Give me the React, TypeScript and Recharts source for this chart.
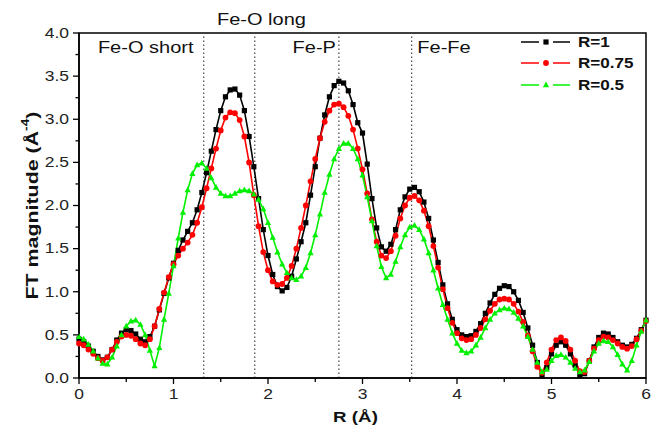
import React from 'react';
import { LineChart, Line, XAxis, YAxis, ReferenceLine, ReferenceArea, ReferenceDot, Legend } from 'recharts';

const FONT = '"Liberation Sans", Arial, sans-serif';
// the source figure is stretched sideways, so text is widened to match
const SX = 1.25;

const R_STEP = 0.05;

// FT magnitude, R = 0 .. 6 in 0.05 steps
const ftR1 = [
  0.45, 0.42, 0.37, 0.31, 0.25, 0.21, 0.24, 0.33, 0.44, 0.52,
  0.56, 0.55, 0.51, 0.45, 0.42, 0.48, 0.60, 0.79, 0.98, 1.16,
  1.33, 1.48, 1.60, 1.70, 1.80, 1.95, 2.15, 2.38, 2.63, 2.88,
  3.10, 3.26, 3.34, 3.35, 3.28, 3.10, 2.80, 2.45, 2.08, 1.72,
  1.42, 1.20, 1.06, 1.01, 1.05, 1.18, 1.38, 1.58, 1.80, 2.12,
  2.45, 2.78, 3.05, 3.26, 3.39, 3.44, 3.42, 3.33, 3.17, 2.96,
  2.84, 2.48, 2.08, 1.74, 1.52, 1.47, 1.55, 1.72, 1.95, 2.10,
  2.19, 2.21, 2.16, 2.04, 1.85, 1.60, 1.34, 1.08, 0.86, 0.68,
  0.56, 0.50, 0.48, 0.49, 0.54, 0.63, 0.75, 0.87, 0.97, 1.04,
  1.07, 1.06, 1.00, 0.90, 0.76, 0.58, 0.38, 0.18, 0.03, 0.12,
  0.28, 0.38, 0.42, 0.38, 0.28, 0.15, 0.03, 0.05, 0.20, 0.36,
  0.47, 0.52, 0.51, 0.47, 0.42, 0.38, 0.36, 0.39, 0.46, 0.56,
  0.67,
];

const ftR075 = [
  0.40, 0.38, 0.33, 0.28, 0.23, 0.20, 0.24, 0.33, 0.42, 0.48,
  0.50, 0.49, 0.45, 0.40, 0.38, 0.45, 0.60, 0.80, 0.99, 1.17,
  1.32, 1.42, 1.50, 1.57, 1.66, 1.80, 1.98, 2.20, 2.43, 2.66,
  2.87, 3.02, 3.08, 3.07, 2.99, 2.80, 2.50, 2.12, 1.76, 1.46,
  1.25, 1.12, 1.08, 1.09, 1.16, 1.30, 1.50, 1.74, 2.00, 2.28,
  2.54, 2.78, 2.97, 3.10, 3.17, 3.18, 3.14, 3.04, 2.88, 2.66,
  2.42, 2.14, 1.84, 1.58, 1.42, 1.39, 1.47, 1.65, 1.85, 2.00,
  2.09, 2.11, 2.06, 1.94, 1.76, 1.53, 1.28, 1.03, 0.81, 0.64,
  0.52, 0.46, 0.44, 0.45, 0.50, 0.58, 0.68, 0.78, 0.86, 0.91,
  0.92, 0.91, 0.86, 0.77, 0.65, 0.49, 0.31, 0.13, 0.06, 0.18,
  0.33, 0.44, 0.47, 0.43, 0.33, 0.20, 0.08, 0.07, 0.20, 0.34,
  0.44, 0.48, 0.47, 0.44, 0.40, 0.36, 0.34, 0.37, 0.45, 0.55,
  0.66,
];

const ftR05 = [
  0.48, 0.45, 0.39, 0.31, 0.23, 0.17, 0.16, 0.24, 0.37, 0.50,
  0.60, 0.66, 0.67, 0.62, 0.50, 0.32, 0.14, 0.35, 0.68, 0.98,
  1.30, 1.62, 1.92, 2.18, 2.37, 2.47, 2.49, 2.43, 2.32, 2.21,
  2.14, 2.11, 2.11, 2.14, 2.17, 2.18, 2.17, 2.13, 2.07, 1.96,
  1.80, 1.63, 1.46, 1.32, 1.22, 1.16, 1.14, 1.18, 1.28, 1.45,
  1.66, 1.90, 2.15, 2.36, 2.54, 2.66, 2.72, 2.72, 2.66, 2.54,
  2.35, 2.10, 1.82, 1.53, 1.29, 1.16, 1.20, 1.35, 1.52, 1.66,
  1.75, 1.77, 1.72, 1.61, 1.45, 1.25, 1.04, 0.85, 0.68, 0.52,
  0.40, 0.32, 0.29, 0.31, 0.38, 0.47, 0.58, 0.68, 0.75, 0.79,
  0.81, 0.80, 0.76, 0.69, 0.60, 0.48, 0.33, 0.18, 0.07, 0.10,
  0.20, 0.26, 0.27, 0.24, 0.18, 0.11, 0.07, 0.09, 0.19, 0.31,
  0.40, 0.43, 0.42, 0.36, 0.27, 0.16, 0.09, 0.20, 0.38, 0.54,
  0.67,
];

const seriesKeys = ['r1', 'r075', 'r05'];
const seriesNames = ['R=1', 'R=0.75', 'R=0.5'];
const seriesColors = ['#000000', '#ff0000', '#00f000'];
const seriesShapes = ['square', 'circle', 'triangle'];

const xTicks = [0, 0.5, 1, 1.5, 2, 2.5, 3, 3.5, 4, 4.5, 5, 5.5, 6];
const xMajor = [0, 1, 2, 3, 4, 5, 6];
const yTicks = [0, 0.25, 0.5, 0.75, 1, 1.25, 1.5, 1.75, 2, 2.25, 2.5, 2.75, 3, 3.25, 3.5, 3.75, 4];
const yMajor = [0, 0.5, 1, 1.5, 2, 2.5, 3, 3.5, 4];

// shell boundaries (dotted lines) and shell labels
const shellEdges = [1.32, 1.86, 2.75, 3.52];
const shellNames = ['Fe-O short', 'Fe-O long', 'Fe-P', 'Fe-Fe'];
const shellLabelR = [0.2, 1.46, 2.26, 3.58];
const shellLabelY = [3.77, 4.09, 3.77, 3.77];

const data = ftR1.map((v, i) => ({
  r: +(i * R_STEP).toFixed(2),
  r1: v,
  r075: ftR075[i],
  r05: ftR05[i],
}));

const Marker = ({ shape, color, cx, cy }: { shape: string; color: string; cx: number; cy: number }) => {
  if (shape === 'square') return <rect x={cx - 2.6} y={cy - 2.6} width={5.2} height={5.2} fill={color} />;
  if (shape === 'circle') return <circle cx={cx} cy={cy} r={2.9} fill={color} />;
  return <path d={`M${cx},${cy - 3.4} L${cx + 3.1},${cy + 2.3} L${cx - 3.1},${cy + 2.3} Z`} fill={color} />;
};

const makeDot = (shape: string, color: string) => (p: any) => {
  if (p.cx == null || p.cy == null) return <g key={`e-${shape}-${p.index}`} />;
  return (
    <g key={`d-${shape}-${p.index}`}>
      <Marker shape={shape} color={color} cx={p.cx} cy={p.cy} />
    </g>
  );
};

const YTick = (props: any) => {
  const { x, y, payload } = props;
  const v = payload.value;
  const major = yMajor.includes(v);
  return (
    <g>
      <line x1={x} x2={x - (major ? 6 : 3.5)} y1={y} y2={y} stroke="#000" strokeWidth={1.3} />
      {major && (
        <text
          transform={`translate(${x - 10},${y}) scale(${SX},1)`}
          textAnchor="end"
          dominantBaseline="central"
          fontSize={14}
          fontFamily={FONT}
          fill="#222"
        >
          {v.toFixed(1)}
        </text>
      )}
    </g>
  );
};

const XTick = (props: any) => {
  const { x, y, payload } = props;
  const v = payload.value;
  const major = xMajor.includes(v);
  return (
    <g>
      <line x1={x} x2={x} y1={y} y2={y + (major ? 6 : 4)} stroke="#000" strokeWidth={1.3} />
      {major && (
        <text
          transform={`translate(${x},${y + 21}) scale(${SX},1)`}
          textAnchor="middle"
          fontSize={14}
          fontFamily={FONT}
          fill="#222"
        >
          {v}
        </text>
      )}
    </g>
  );
};

const YTitle = (props: any) => {
  const vb = props.viewBox;
  const cx = vb.x + 3;
  const cy = vb.y + vb.height / 2;
  return (
    <text
      transform={`translate(${cx},${cy}) rotate(-90)`}
      textAnchor="middle"
      dominantBaseline="central"
      fontSize={17}
      fontWeight="bold"
      fontFamily={FONT}
      fill="#111"
      textLength={188}
      lengthAdjust="spacingAndGlyphs"
    >
      FT magnitude (Å<tspan dy={-7} fontSize={11}>-4</tspan>
      <tspan dy={7}>)</tspan>
    </text>
  );
};

const XTitle = (props: any) => {
  const vb = props.viewBox;
  return (
    <text
      transform={`translate(${vb.x + vb.width / 2 - 7},${vb.y + 44}) scale(${SX},1)`}
      textAnchor="middle"
      fontSize={15}
      fontWeight="bold"
      fontFamily={FONT}
      fill="#111"
    >
      R (Å)
    </text>
  );
};

const shellLabel = (text: string) => (props: any) => {
  const vb = props.viewBox || {};
  return (
    <text
      transform={`translate(${vb.x},${vb.y}) scale(${SX},1)`}
      fontSize={16}
      fontFamily={FONT}
      fill="#111"
    >
      {text}
    </text>
  );
};

const renderLegend = () => (
  <div style={{ fontFamily: FONT, fontWeight: 'bold', fontSize: 14, color: '#111' }}>
    {seriesNames.map((name, i) => (
      <div key={name} style={{ display: 'flex', alignItems: 'center', height: 21.5 }}>
        <svg width={50} height={12} style={{ display: 'block' }}>
          <line x1={0} x2={18} y1={6} y2={6} stroke={seriesColors[i]} strokeWidth={1.5} />
          <Marker shape={seriesShapes[i]} color={seriesColors[i]} cx={25} cy={6} />
          <line x1={32} x2={49} y1={6} y2={6} stroke={seriesColors[i]} strokeWidth={1.5} />
        </svg>
        <span style={{ marginLeft: 7, display: 'inline-block', transform: `scaleX(${SX - 0.03})`, transformOrigin: 'left center' }}>
          {name}
        </span>
      </div>
    ))}
  </div>
);

export default function App() {
  return (
    <div style={{ position: 'absolute', left: 0, top: 0, width: 651, height: 431, background: '#fff' }}>
      <LineChart width={651} height={431} data={data} margin={{ top: 33, right: 5, left: 29, bottom: 23 }}>
        <XAxis
          dataKey="r"
          type="number"
          domain={[0, 6]}
          ticks={xTicks}
          interval={0}
          height={30}
          tickSize={0}
          tickMargin={0}
          tickLine={false}
          tick={<XTick />}
          axisLine={{ stroke: '#000', strokeWidth: 1.5 }}
          label={<XTitle />}
        />
        <YAxis
          type="number"
          domain={[0, 4]}
          ticks={yTicks}
          interval={0}
          width={50}
          tickSize={0}
          tickMargin={0}
          tickLine={false}
          tick={<YTick />}
          axisLine={{ stroke: '#000', strokeWidth: 1.5 }}
          allowDataOverflow
          label={<YTitle />}
        />
        <ReferenceArea x1={0} x2={6} y1={0} y2={4} fill="none" stroke="#000" strokeWidth={1.5} />
        {shellEdges.map((r) => (
          <ReferenceLine key={r} x={r} stroke="#444" strokeWidth={1.2} strokeDasharray="1.5 2.5" />
        ))}
        {shellNames.map((name, i) => (
          <ReferenceDot
            key={name}
            x={shellLabelR[i]}
            y={shellLabelY[i]}
            r={0}
            fill="none"
            stroke="none"
            ifOverflow="visible"
            label={shellLabel(name)}
          />
        ))}
        {seriesKeys.map((k, i) => (
          <Line
            key={k}
            type="linear"
            dataKey={k}
            name={seriesNames[i]}
            stroke={seriesColors[i]}
            strokeWidth={1.6}
            dot={makeDot(seriesShapes[i], seriesColors[i])}
            activeDot={false}
            isAnimationActive={false}
          />
        ))}
        <Legend
          layout="vertical"
          align="center"
          verticalAlign="middle"
          wrapperStyle={{ left: 521, top: 31, width: 125 }}
          content={renderLegend}
        />
      </LineChart>
    </div>
  );
}
